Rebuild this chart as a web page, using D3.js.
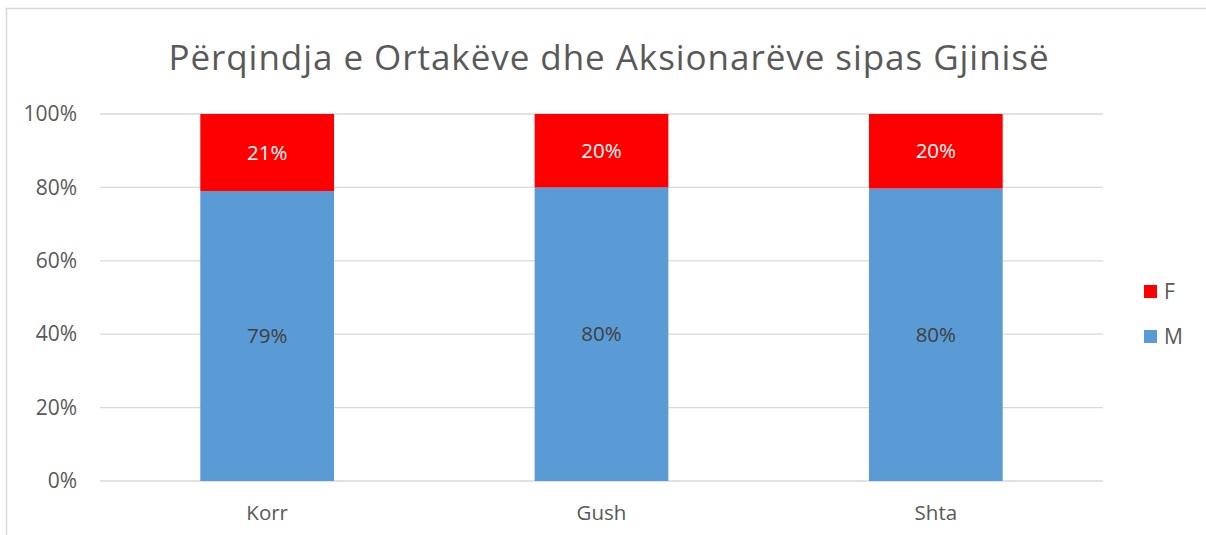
<!DOCTYPE html>
<html><head><meta charset="utf-8">
<script src="https://cdn.jsdelivr.net/npm/d3@7/dist/d3.min.js"></script>
<style>body{margin:0;background:#fff}svg{display:block}text{font-family:"Open Sans","Noto Sans",sans-serif}</style>
</head><body>
<svg id="c" width="1206" height="535"></svg>
<script>
const categories = ["Korr", "Gush", "Shta"];
const seriesNames = ["M", "F"];
const valuesM = [79, 80, 79.7];
const valuesF = [21, 20, 20.3];
const labelsM = ["79%", "80%", "80%"];
const labelsF = ["21%", "20%", "20%"];
const yTicks = [0, 20, 40, 60, 80, 100];
const title = "Përqindja e Ortakëve dhe Aksionarëve sipas Gjinisë";
const colors = {M: "#5B9BD5", F: "#FF0000"};

const svg = d3.select("#c");
// chart border
svg.append("rect").attr("x", 6.5).attr("y", 8.5).attr("width", 1220).attr("height", 560)
  .attr("fill", "none").attr("stroke", "#d9d9d9").attr("stroke-width", 1.5);

const x = d3.scaleBand().domain(categories).range([100, 1103]).paddingInner(0.6).paddingOuter(0.3);
const y = d3.scaleLinear().domain([0, 100]).range([481, 114]);

// gridlines
svg.append("g").selectAll("line").data(yTicks).join("line")
  .attr("x1", 100).attr("x2", 1103).attr("y1", d => y(d)).attr("y2", d => y(d))
  .attr("stroke", "#d9d9d9").attr("stroke-width", 1.3);

// y axis labels
const yAxis = d3.axisLeft(y).tickValues(yTicks).tickFormat(d => d + "%").tickSize(0).tickPadding(0);
const ya = svg.append("g").attr("transform", "translate(77,0)").call(yAxis);
ya.select(".domain").remove();
ya.selectAll("text").attr("font-size", 21).attr("fill", "#595959").attr("font-family", '"Open Sans", sans-serif');

// x axis labels
const xAxis = d3.axisBottom(x).tickSize(0).tickPadding(0);
const xa = svg.append("g").attr("transform", "translate(0,505)").call(xAxis);
xa.select(".domain").remove();
xa.selectAll("text").attr("font-size", 20.5).attr("fill", "#595959").attr("font-family", '"Open Sans", sans-serif');

const data = categories.map((c, i) => ({c, M: valuesM[i], F: valuesF[i], lM: labelsM[i], lF: labelsF[i]}));
const stacked = d3.stack().keys(seriesNames)(data);

svg.append("g").selectAll("g").data(stacked).join("g")
  .attr("fill", d => colors[d.key])
  .selectAll("rect").data(d => d).join("rect")
  .attr("x", d => x(d.data.c)).attr("width", x.bandwidth())
  .attr("y", d => y(d[1])).attr("height", d => y(d[0]) - y(d[1]));

// data labels
stacked.forEach(s => {
  svg.append("g").selectAll("text").data(s).join("text")
    .attr("x", d => x(d.data.c) + x.bandwidth() / 2)
    .attr("y", d => (y(d[0]) + y(d[1])) / 2)
    .attr("dy", "0.35em").attr("text-anchor", "middle")
    .attr("font-size", 20.5)
    .attr("fill", s.key === "F" ? "#ffffff" : "#404040")
    .text(d => s.key === "F" ? d.data.lF : d.data.lM);
});

// title
svg.append("text").attr("x", 609).attr("y", 70).attr("text-anchor", "middle")
  .attr("font-size", 35).attr("letter-spacing", 0.95).attr("fill", "#595959").text(title);

// legend
const legendKeys = ["F", "M"];
const lg = svg.append("g").selectAll("g").data(legendKeys).join("g")
  .attr("transform", (d, i) => `translate(1144,${285 + i * 45})`);
lg.append("rect").attr("width", 13).attr("height", 13).attr("fill", d => colors[d]);
lg.append("text").attr("x", 20).attr("y", 6.5).attr("dy", "0.35em")
  .attr("font-size", 21).attr("fill", "#595959").text(d => d);
</script>
</body></html>
